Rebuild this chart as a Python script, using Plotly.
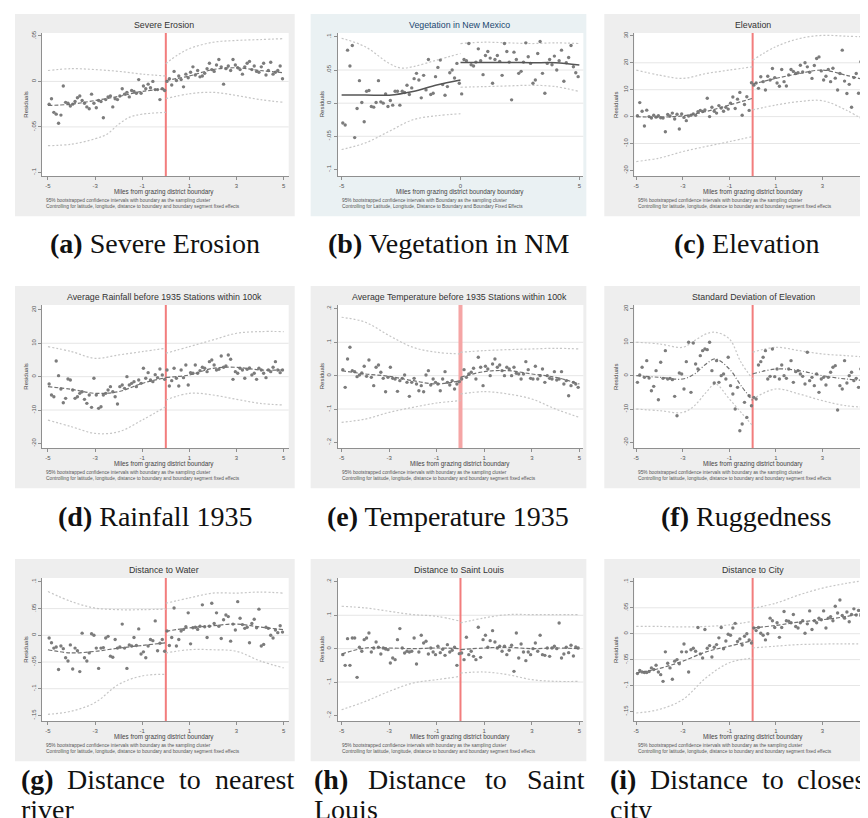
import plotly.graph_objects as go

W, H = 868, 818

# ---------------- data ----------------
X_L = [-4.95, -4.85, -4.75, -4.65, -4.55, -4.45, -4.35, -4.25, -4.15, -4.05,
       -3.95, -3.85, -3.75, -3.65, -3.55, -3.45, -3.35, -3.25, -3.15, -3.05,
       -2.95, -2.85, -2.75, -2.65, -2.55, -2.45, -2.35, -2.25, -2.15, -2.05,
       -1.95, -1.85, -1.75, -1.65, -1.55, -1.45, -1.35, -1.25, -1.15, -1.05,
       -0.95, -0.85, -0.75, -0.65, -0.55, -0.45, -0.35, -0.25, -0.15, -0.05]
X_R = [0.05, 0.15, 0.25, 0.35, 0.45, 0.55, 0.65, 0.75, 0.85, 0.95,
       1.05, 1.15, 1.25, 1.35, 1.45, 1.55, 1.65, 1.75, 1.85, 1.95,
       2.05, 2.15, 2.25, 2.35, 2.45, 2.55, 2.65, 2.75, 2.85, 2.95,
       3.05, 3.15, 3.25, 3.35, 3.45, 3.55, 3.65, 3.75, 3.85, 3.95,
       4.05, 4.15, 4.25, 4.35, 4.45, 4.55, 4.65, 4.75, 4.85, 4.95]
GRID_L = [-5, -4, -3, -2, -1, 0]
GRID_R = [0, 1, 2, 3, 4, 5]

# (a) Severe erosion
A_L = [-0.025, -0.019, -0.034, -0.036, -0.046, -0.037, -0.005, -0.023, -0.024, -0.027,
       -0.025, -0.022, -0.018, -0.016, -0.021, -0.024, -0.028, -0.030, -0.014, -0.024,
       -0.029, -0.021, -0.022, -0.040, -0.020, -0.017, -0.016, -0.028, -0.019, -0.020,
       -0.016, -0.008, -0.014, -0.012, -0.017, -0.010, -0.011, -0.013, 0.002, -0.013,
       -0.005, -0.008, -0.003, -0.007, 0.000, -0.009, -0.009, -0.020, -0.008, -0.010]
A_R = [0.000, 0.003, -0.004, 0.011, 0.001, 0.006, 0.002, -0.006, 0.008, 0.004,
       0.010, 0.016, 0.007, 0.012, 0.005, 0.006, 0.009, 0.014, 0.020, 0.013,
       0.011, 0.018, 0.024, 0.016, -0.003, 0.014, 0.017, 0.012, 0.024, 0.018,
       0.015, 0.013, 0.008, 0.016, 0.020, 0.022, 0.013, 0.017, 0.011, 0.010,
       0.016, 0.020, 0.007, 0.012, 0.021, 0.008, 0.010, 0.012, 0.017, 0.003]
A_FIT_L = [-0.0265, -0.025, -0.021, -0.0165, -0.011, -0.008]
A_FIT_R = [0.001, 0.006, 0.013, 0.015, 0.012, 0.0095]
A_CI_LU = [0.012, 0.014, 0.013, 0.011, 0.008, 0.006]
A_CI_LL_X = [-5, -4, -3, -2.5, -2, -1.5, -1, 0]
A_CI_LL = [-0.0706, -0.069, -0.063, -0.058, -0.047, -0.039, -0.036, -0.034]
A_CI_RU_X = [0, 0.5, 1, 2, 3, 4, 5]
A_CI_RU = [0.0195, 0.029, 0.036, 0.043, 0.045, 0.046, 0.047]
A_CI_RL = [-0.019, -0.0136, -0.012, -0.0155, -0.020, -0.023]

# (b) Vegetation in New Mexico
B_L = [-0.030, -0.033, 0.080, 0.056, 0.087, -0.052, -0.008, 0.034, 0.001, -0.028,
       0.018, 0.019, -0.005, -0.006, 0.001, 0.034, 0.002, 0.000, 0.014, -0.005,
       0.004, -0.003, 0.018, 0.018, -0.003, 0.018, 0.016, 0.027, 0.013, 0.023,
       0.037, 0.045, 0.035, 0.008, 0.042, 0.020, 0.066, 0.013, 0.015, 0.040,
       0.054, 0.065, 0.028, 0.012, 0.025, 0.046, 0.050, 0.038, 0.060, 0.030]
B_R = [0.014, 0.066, 0.064, 0.090, 0.058, 0.056, 0.062, 0.082, 0.064, 0.043,
       0.072, 0.078, 0.068, 0.030, 0.066, 0.072, 0.063, 0.042, 0.090, 0.078,
       0.062, 0.005, 0.077, 0.066, 0.045, 0.048, 0.062, 0.091, 0.070, 0.060,
       0.030, 0.035, 0.075, 0.093, 0.045, 0.015, 0.060, 0.066, 0.058, 0.071,
       0.050, 0.064, 0.080, 0.033, 0.061, 0.069, 0.087, 0.055, 0.046, 0.040]
B_FIT_L = [0.0125, 0.0125, 0.012, 0.0175, 0.0275, 0.035]
B_FIT_R = [0.0615, 0.0615, 0.0615, 0.061, 0.061, 0.0575]
B_CI_LU_X = [-5, -4, -3, -2.5, -2, -1, 0]
B_CI_LU = [0.098, 0.085, 0.060, 0.053, 0.055, 0.065, 0.075]
B_CI_LL = [-0.070, -0.060, -0.0425, -0.025, -0.019, -0.016]
B_CI_RU = [0.090, 0.092, 0.091, 0.090, 0.091, 0.090]
B_CI_RL = [0.024, 0.025, 0.026, 0.027, 0.025, 0.0175]

# (c) Elevation
C_L = [0.3, 5.2, 2.0, -3.5, 2.4, 0.0, -0.5, 0.5, -0.2, 0.3,
       -0.4, -0.5, -5.6, 0.8, 0.2, 1.3, -0.9, 0.9, -4.6, 1.0,
       -0.3, -1.5, 0.2, 0.5, 1.0, 0.5, 1.8, 2.3, 1.9, 2.5,
       6.8, 0.0, 3.5, 2.0, 1.3, 4.1, 3.2, 2.0, 3.5, 2.8,
       5.0, 7.3, 3.0, 6.5, 9.0, 0.5, 4.5, 7.4, 2.3, 12.6]
C_R = [11.7, 12.5, 10.5, 14.8, 13.0, 9.9, 15.0, 13.6, 17.9, 14.5,
       12.5, 11.3, 17.5, 13.0, 11.4, 15.5, 17.5, 16.8, 16.0, 16.3,
       19.1, 16.6, 20.0, 18.5, 16.5, 14.2, 19.0, 21.6, 22.2, 17.0,
       13.6, 15.0, 17.5, 13.0, 18.0, 14.3, 9.9, 16.0, 24.7, 13.2,
       8.6, 12.0, 3.5, 14.5, 16.0, 8.7, 20.4, 12.0, 8.0, 14.0]
C_FIT_L = [0.0, -0.2, 0.3, 1.9, 4.3, 6.8]
C_FIT_R = [12.1, 14.2, 16.0, 17.3, 15.4, 13.3]
C_CI_LU = [17.3, 15.4, 14.2, 16.0, 17.3, 18.5]
C_CI_LL = [-16.7, -15.4, -13.0, -11.1, -9.3, -7.4]
C_CI_RU = [21.0, 26.0, 29.0, 30.2, 29.9, 29.6]
C_CI_RL = [2.5, 4.3, 5.6, 5.9, 2.5, -2.5]

# (d) Rainfall before 1935
D_L = [-2.2, -5.5, -6.0, 4.7, 0.3, -3.7, -7.8, -6.5, -0.7, -1.0,
       -4.0, -6.5, -6.0, -5.0, -4.5, -6.8, -8.0, -5.5, -9.2, -0.5,
       -5.5, -9.5, -9.0, -5.5, -5.0, -4.0, -3.0, -4.5, -6.0, -8.2,
       -3.0, -2.5, -3.5, 0.0, -2.5, -2.0, -1.5, -3.0, -1.0, -2.0,
       2.5, -0.5, 1.2, -1.0, -1.5, 0.6, -0.3, 2.3, 0.5, -0.8]
D_R = [2.0, -2.8, -1.2, 2.5, -0.5, -2.8, 2.0, -0.3, 3.5, -2.5,
       1.2, 1.0, 3.5, 1.0, 1.8, 2.8, 2.5, 1.5, 4.5, 5.0,
       3.5, 2.0, 2.2, 6.2, 2.8, 3.2, 6.5, 5.2, -0.8, 1.5,
       1.0, 2.5, 2.0, -0.5, 2.2, 2.6, 0.5, 1.0, -0.8, 2.5,
       2.0, 1.0, -0.3, 2.0, 1.5, 2.8, 4.5, 2.0, 1.2, 2.0]
D_FIT_L = [-3.0, -3.8, -5.0, -4.5, -2.0, -0.3]
D_FIT_R = [-0.2, 0.5, 2.5, 2.8, 2.0, 2.0]
D_CI_LU = [9.0, 7.5, 5.5, 6.5, 7.5, 8.5]
D_CI_LL = [-13.0, -15.0, -17.0, -16.5, -13.0, -9.0]
D_CI_RU = [7.0, 9.0, 11.0, 13.0, 13.5, 13.5]
D_CI_RL = [-7.0, -5.0, -5.5, -6.8, -8.0, -8.5]

# (e) Temperature before 1935
E_L = [0.018, -0.035, 0.050, 0.085, 0.015, 0.012, -0.003, 0.002, 0.008, 0.028,
       -0.002, 0.047, -0.005, -0.030, 0.025, 0.032, 0.010, -0.008, -0.048, -0.005,
       0.025, -0.008, -0.010, -0.047, -0.015, -0.008, 0.002, -0.020, -0.062, -0.020,
       -0.008, -0.025, -0.045, -0.030, -0.048, 0.002, 0.015, -0.028, -0.010, -0.020,
       -0.025, -0.045, -0.010, 0.012, -0.020, -0.028, -0.015, -0.040, -0.025, -0.018]
E_R = [-0.010, 0.018, -0.005, 0.005, 0.010, 0.022, -0.010, 0.055, 0.025, -0.030,
       0.028, 0.020, 0.000, 0.035, 0.050, 0.025, 0.032, 0.015, 0.000, 0.025,
       0.020, 0.000, 0.025, 0.007, 0.005, -0.010, 0.005, 0.042, 0.018, -0.008,
       -0.010, 0.028, -0.010, 0.000, 0.020, -0.020, 0.000, -0.008, -0.010, 0.012,
       -0.013, -0.010, 0.012, -0.025, -0.015, -0.060, -0.030, -0.020, -0.025, -0.035]
E_FIT_L = [0.015, 0.005, -0.002, -0.015, -0.025, -0.015]
E_FIT_R = [-0.005, 0.012, 0.015, 0.005, -0.005, -0.025]
E_CI_LU = [0.175, 0.160, 0.120, 0.085, 0.070, 0.065]
E_CI_LL = [-0.140, -0.130, -0.110, -0.095, -0.082, -0.075]
E_CI_RU = [0.070, 0.075, 0.078, 0.080, 0.082, 0.080]
E_CI_RL = [-0.055, -0.048, -0.055, -0.070, -0.100, -0.125]

# (f) Standard deviation of elevation
F_L = [-2.0, 0.2, 2.5, -0.5, 4.5, -0.7, -4.5, -3.2, 1.5, -7.2,
       4.0, -0.8, 7.5, -1.0, -0.8, -1.2, -6.2, -12.0, 0.8, 0.5,
       -4.0, 4.2, 10.0, -5.0, 9.8, 3.5, 2.0, 6.0, 7.5, 8.0,
       7.8, 10.0, 1.5, -2.2, 4.5, -2.0, 0.0, 0.5, -1.0, 5.5,
       -3.0, -5.5, -10.0, -3.5, -16.5, -14.5, -8.0, -12.5, -6.0, -9.0]
F_R = [-6.5, -7.0, 3.2, 4.2, 5.5, 7.5, -1.0, -0.2, 8.0, -0.3,
       2.0, -1.0, 3.2, 0.0, -0.8, 2.0, 4.5, -2.0, 1.2, 1.5,
       0.5, -0.2, -2.5, 7.0, -1.5, -0.5, -3.0, 0.5, -5.0, -1.0,
       -0.5, -2.8, -0.5, 1.0, 2.5, 3.0, -10.3, -3.0, -4.0, 4.5,
       -2.2, 0.0, 1.0, -1.5, -0.8, -3.5, 2.0, -1.8, -0.5, -2.2]
F_XL = [-5, -4, -3, -2.5, -2, -1.6, -1, -0.5, 0]
F_FIT_L = [0.0, -0.5, -1.0, 0.5, 3.5, 5.0, 2.0, -3.0, -7.5]
F_CI_LU = [10.0, 9.5, 8.5, 10.5, 12.5, 13.0, 11.0, 4.0, -1.0]
F_CI_LL = [-10.0, -10.5, -11.0, -9.0, -5.0, -2.5, -7.0, -11.0, -15.0]
F_FIT_R = [0.5, 2.0, 1.5, 0.0, -1.0, -1.5]
F_CI_RU = [7.0, 8.5, 7.5, 6.5, 6.0, 5.5]
F_CI_RL = [-7.0, -4.0, -5.5, -7.5, -9.0, -9.5]

# (g) Distance to water
G_L = [-0.005, -0.014, -0.024, -0.022, -0.064, -0.020, -0.025, -0.042, -0.048, -0.018,
       -0.063, -0.024, -0.029, -0.068, 0.004, -0.042, -0.048, -0.033, 0.003, 0.000,
       -0.024, -0.062, -0.024, -0.023, -0.005, -0.002, -0.039, -0.041, -0.008, -0.024,
       -0.022, 0.021, -0.024, -0.062, -0.018, -0.020, -0.004, -0.019, 0.012, -0.035,
       -0.031, -0.042, -0.020, -0.008, -0.010, 0.027, -0.029, -0.015, -0.008, -0.030]
G_R = [0.008, -0.019, -0.004, 0.051, -0.020, -0.008, 0.008, 0.011, 0.016, 0.042,
       -0.016, 0.014, 0.015, 0.011, 0.017, 0.057, 0.016, -0.004, 0.017, 0.060,
       0.022, 0.042, 0.017, -0.006, 0.029, 0.038, 0.035, -0.011, 0.021, 0.010,
       0.063, 0.032, 0.020, 0.013, 0.015, -0.014, 0.022, 0.030, 0.014, 0.049,
       -0.020, -0.017, 0.015, 0.013, 0.000, -0.005, 0.010, 0.005, 0.018, 0.006]
G_FIT_L = [-0.027, -0.033, -0.030, -0.024, -0.019, -0.014]
G_FIT_R = [0.0075, 0.014, 0.018, 0.021, 0.0155, 0.0105]
G_CI_LU = [0.082, 0.063, 0.051, 0.048, 0.048, 0.049]
G_CI_LL = [-0.148, -0.142, -0.126, -0.092, -0.076, -0.073]
G_CI_RU = [0.060, 0.070, 0.079, 0.079, 0.081, 0.079]
G_CI_RL = [-0.033, -0.027, -0.027, -0.030, -0.048, -0.061]

# (h) Distance to Saint Louis
H_L = [-0.018, -0.050, 0.030, -0.050, 0.032, 0.032, -0.086, 0.004, -0.008, 0.027,
       0.032, 0.047, -0.010, 0.002, 0.020, 0.004, -0.016, 0.002, -0.001, -0.003,
       -0.043, -0.028, -0.033, 0.027, 0.060, 0.002, -0.013, -0.008, -0.010, -0.008,
       0.032, -0.046, -0.010, 0.040, 0.017, 0.022, -0.016, 0.002, -0.010, -0.018,
       0.007, -0.012, -0.002, -0.020, 0.012, -0.010, -0.005, 0.004, -0.050, -0.015]
H_R = [-0.013, -0.033, 0.034, -0.018, -0.008, -0.023, -0.033, 0.064, -0.026, 0.027,
       0.040, 0.004, 0.024, 0.054, 0.020, 0.002, 0.007, -0.008, 0.007, -0.018,
       -0.005, 0.010, -0.068, 0.047, -0.028, 0.014, -0.010, -0.036, -0.010, -0.018,
       0.000, 0.017, -0.008, 0.040, -0.018, -0.020, 0.002, -0.023, 0.002, 0.007,
       0.000, 0.077, -0.028, -0.016, 0.004, -0.012, 0.010, -0.022, 0.005, 0.002]
H_FIT_L = [-0.016, 0.002, 0.002, 0.000, 0.002, 0.000]
H_FIT_R = [-0.003, 0.002, 0.004, 0.000, 0.002, 0.000]
H_CI_LU = [0.127, 0.122, 0.112, 0.102, 0.097, 0.082]
H_CI_LL = [-0.183, -0.158, -0.128, -0.103, -0.093, -0.083]
H_CI_RU = [0.077, 0.092, 0.102, 0.102, 0.102, 0.102]
H_CI_RL = [-0.073, -0.070, -0.078, -0.093, -0.098, -0.098]

# (i) Distance to city
I_L = [-0.077, -0.071, -0.074, -0.075, -0.075, -0.073, -0.066, -0.069, -0.061, -0.074,
       -0.079, -0.092, -0.035, -0.057, -0.066, -0.088, -0.053, -0.050, -0.058, -0.035,
       -0.020, -0.035, -0.074, -0.031, -0.028, -0.034, 0.012, -0.039, -0.047, 0.008,
       -0.028, -0.023, -0.045, -0.026, -0.021, -0.008, 0.012, -0.029, -0.014, -0.001,
       -0.003, 0.011, 0.020, -0.015, -0.010, -0.022, -0.005, 0.000, -0.012, -0.018]
I_R = [0.011, 0.006, 0.012, 0.001, -0.003, -0.012, 0.000, 0.030, 0.025, 0.012,
       0.021, -0.007, 0.012, 0.043, 0.025, 0.024, 0.021, 0.037, 0.014, 0.011,
       0.021, 0.025, 0.001, 0.019, 0.044, 0.008, 0.025, 0.021, 0.030, 0.027,
       0.044, 0.011, 0.030, 0.033, 0.025, 0.053, 0.040, 0.065, 0.035, 0.030,
       0.042, 0.023, 0.037, 0.048, 0.036, 0.045, 0.035, 0.022, 0.037, 0.040]
I_FIT_L = [-0.0756, -0.067, -0.053, -0.035, -0.024, -0.0135]
I_FIT_R = [0.011, 0.016, 0.0225, 0.027, 0.033, 0.042]
I_CI_LU = [0.014, 0.014, 0.013, 0.014, 0.017, 0.024]
I_CI_LL = [-0.153, -0.146, -0.127, -0.085, -0.056, -0.047]
I_CI_RU = [0.049, 0.059, 0.075, 0.088, 0.097, 0.104]
I_CI_RL = [-0.0275, -0.024, -0.021, -0.020, -0.0195, -0.020]

TITLES = ["Severe Erosion", "Vegetation in New Mexico", "Elevation",
          "Average Rainfall before 1935 Stations within 100k",
          "Average Temperature before 1935 Stations within 100k",
          "Standard Deviation of Elevation",
          "Distance to Water", "Distance to Saint Louis", "Distance to City"]
CAPTIONS = [("(a)", "Severe Erosion"), ("(b)", "Vegetation in NM"), ("(c)", "Elevation"),
            ("(d)", "Rainfall 1935"), ("(e)", "Temperature 1935"), ("(f)", "Ruggedness")]
Y_TICKS = [
    ([0.05, 0, -0.05, -0.1], [".05", "0", "-.05", "-.1"]),
    ([0.1, 0.05, 0, -0.05, -0.1], [".1", ".05", "0", "-.05", "-.1"]),
    ([30, 20, 10, 0, -10, -20], ["30", "20", "10", "0", "-10", "-20"]),
    ([20, 10, 0, -10, -20], ["20", "10", "0", "-10", "-20"]),
    ([0.2, 0.1, 0, -0.1, -0.2], [".2", ".1", "0", "-.1", "-.2"]),
    ([20, 10, 0, -10, -20], ["20", "10", "0", "-10", "-20"]),
    ([0.1, 0.05, 0, -0.05, -0.1, -0.15], [".1", ".05", "0", "-.05", "-.1", "-.15"]),
    ([0.2, 0.1, 0, -0.1, -0.2], [".2", ".1", "0", "-.1", "-.2"]),
    ([0.1, 0.05, 0, -0.05, -0.1, -0.15], [".1", ".05", "0", "-.05", "-.1", "-.15"]),
]
X_TICKS = [-5, -3, -1, 1, 3, 5]
X_TICKS_B = [-5, 0, 5]
NOTE_1 = ("95% bootstrapped confidence intervals with boundary as the sampling cluster<br>"
          "Controlling for latitude, longitude, distance to boundary and boundary segment fixed effects")
NOTE_B = ("95% bootstrapped confidence intervals with Boundary as the sampling cluster<br>"
          "Controlling for Latitude, Longitude, Distance to Boundary and Boundary Fixed Effects")

PANELS = [
    dict(pl=A_L, pr=A_R, fl=(GRID_L, A_FIT_L), fr=(GRID_R, A_FIT_R),
         cis=[(GRID_L, A_CI_LU), (A_CI_LL_X, A_CI_LL), (A_CI_RU_X, A_CI_RU), (GRID_R, A_CI_RL)]),
    dict(pl=B_L, pr=B_R, fl=(GRID_L, B_FIT_L), fr=(GRID_R, B_FIT_R),
         cis=[(B_CI_LU_X, B_CI_LU), (GRID_L, B_CI_LL), (GRID_R, B_CI_RU), (GRID_R, B_CI_RL)]),
    dict(pl=C_L, pr=C_R, fl=(GRID_L, C_FIT_L), fr=(GRID_R, C_FIT_R),
         cis=[(GRID_L, C_CI_LU), (GRID_L, C_CI_LL), (GRID_R, C_CI_RU), (GRID_R, C_CI_RL)]),
    dict(pl=D_L, pr=D_R, fl=(GRID_L, D_FIT_L), fr=(GRID_R, D_FIT_R),
         cis=[(GRID_L, D_CI_LU), (GRID_L, D_CI_LL), (GRID_R, D_CI_RU), (GRID_R, D_CI_RL)]),
    dict(pl=E_L, pr=E_R, fl=(GRID_L, E_FIT_L), fr=(GRID_R, E_FIT_R),
         cis=[(GRID_L, E_CI_LU), (GRID_L, E_CI_LL), (GRID_R, E_CI_RU), (GRID_R, E_CI_RL)]),
    dict(pl=F_L, pr=F_R, fl=(F_XL, F_FIT_L), fr=(GRID_R, F_FIT_R),
         cis=[(F_XL, F_CI_LU), (F_XL, F_CI_LL), (GRID_R, F_CI_RU), (GRID_R, F_CI_RL)]),
    dict(pl=G_L, pr=G_R, fl=(GRID_L, G_FIT_L), fr=(GRID_R, G_FIT_R),
         cis=[(GRID_L, G_CI_LU), (GRID_L, G_CI_LL), (GRID_R, G_CI_RU), (GRID_R, G_CI_RL)]),
    dict(pl=H_L, pr=H_R, fl=(GRID_L, H_FIT_L), fr=(GRID_R, H_FIT_R),
         cis=[(GRID_L, H_CI_LU), (GRID_L, H_CI_LL), (GRID_R, H_CI_RU), (GRID_R, H_CI_RL)]),
    dict(pl=I_L, pr=I_R, fl=(GRID_L, I_FIT_L), fr=(GRID_R, I_FIT_R),
         cis=[(GRID_L, I_CI_LU), (GRID_L, I_CI_LL), (GRID_R, I_CI_RU), (GRID_R, I_CI_RL)]),
]

# ---------------- layout geometry (pixels) ----------------
COLS = [dict(gx0=6, gx1=286, px0=33, px1=280, xm5=39, xp5=275),
        dict(gx0=302, gx1=578, px0=329, px1=575, xm5=333, xp5=571),
        dict(gx0=596, gx1=884, px0=626, px1=868, xm5=628, xp5=861)]
ROWS = [0, 273, 547]
TICK_PX = [(25, 162), (26, 159), (25, 160), (27, 161), (26, 160), (26, 160),
           (26, 160), (26, 160), (26, 156)]
PLOT_TOP, PLOT_BOT = 22, 166

SANS = "Liberation Sans, Arial, sans-serif"
SERIF = "Liberation Serif, Times New Roman, serif"


def fx(p):
    return p / W


def fy(p):
    return 1 - p / H


fig = go.Figure()
shapes, annotations, layout_axes = [], [], {}

for i, P in enumerate(PANELS):
    col, row = COLS[i % 3], ROWS[i // 3]
    n = "" if i == 0 else str(i + 1)
    xa, ya = "x" + n, "y" + n
    is_b = (i == 1)

    unit = (col["xp5"] - col["xm5"]) / 10.0
    xr = [-5 - (col["xm5"] - col["px0"]) / unit, 5 + (col["px1"] - col["xp5"]) / unit]
    tv, tt = Y_TICKS[i]
    p0, p1 = TICK_PX[i]
    slope = (tv[0] - tv[-1]) / (p1 - p0)
    yr = [tv[-1] - (PLOT_BOT - p1) * slope, tv[0] + (p0 - PLOT_TOP) * slope]

    axis_common = dict(showline=True, linecolor="#8f8f8f", linewidth=1, ticks="outside",
                       ticklen=3, tickcolor="#8f8f8f", showgrid=False, zeroline=False,
                       tickfont=dict(family=SANS, size=6, color="#555"), fixedrange=True)
    xt = X_TICKS_B if is_b else X_TICKS
    layout_axes["xaxis" + n] = dict(domain=[fx(col["px0"]), fx(col["px1"])], range=xr,
                                    anchor=ya, tickvals=xt, ticktext=[str(v) for v in xt],
                                    ticklabeloverflow="allow", **axis_common)
    layout_axes["yaxis" + n] = dict(domain=[fy(row + PLOT_BOT), fy(row + PLOT_TOP)], range=yr,
                                    anchor=xa, tickvals=tv, ticktext=tt, tickangle=-90,
                                    **axis_common)

    # panel background and plot area
    shapes.append(dict(type="rect", xref="paper", yref="paper", layer="below",
                       x0=fx(col["gx0"]), x1=fx(col["gx1"]), y0=fy(row + 206), y1=fy(row + 3),
                       fillcolor="#eaf1f3" if is_b else "#eeeeee", line=dict(width=0)))
    shapes.append(dict(type="rect", xref="paper", yref="paper", layer="below",
                       x0=fx(col["px0"]), x1=fx(col["px1"]), y0=fy(row + PLOT_BOT),
                       y1=fy(row + PLOT_TOP), fillcolor="white", line=dict(width=0)))
    for v in tv[1:-1]:
        shapes.append(dict(type="line", xref=xa + " domain", yref=ya, layer="below",
                           x0=0, x1=1, y0=v, y1=v, line=dict(color="#e6e6e6", width=1)))
    if not is_b:
        shapes.append(dict(type="line", xref=xa, yref=ya + " domain", layer="below",
                           x0=0, x1=0, y0=0, y1=1,
                           line=dict(color="#f5a5a5" if i == 4 else "#f27d7d",
                                     width=4 if i == 4 else 2)))

    # confidence bands
    for cx, cy in P["cis"]:
        fig.add_trace(go.Scatter(x=cx, y=cy, mode="lines", xaxis=xa, yaxis=ya,
                                 line=dict(color="#c6c6c6", width=1.2, dash="2px,2px",
                                           shape="spline", smoothing=1.0),
                                 hoverinfo="skip", showlegend=False))
    # binned residuals
    fig.add_trace(go.Scatter(x=X_L + X_R, y=P["pl"] + P["pr"], mode="markers",
                             xaxis=xa, yaxis=ya,
                             marker=dict(symbol="circle", size=3.4, color="#7c7c7c",
                                         line=dict(width=0)),
                             showlegend=False))
    # fitted lines
    fcol = "#555555" if is_b else "#707070"
    for fxs, fys in (P["fl"], P["fr"]):
        fig.add_trace(go.Scatter(x=fxs, y=fys, mode="lines", xaxis=xa, yaxis=ya,
                                 line=dict(color=fcol, width=1.5 if is_b else 1.2,
                                           dash="solid" if is_b else ("4px,2px,1px,2px" if i == 5 else "4px,2px"),
                                           shape="spline", smoothing=1.0),
                                 hoverinfo="skip", showlegend=False))

    center_x = fx((col["px0"] + col["xp5"] + 3) / 2)
    # title
    annotations.append(dict(text=TITLES[i], xref="paper", yref="paper",
                            x=center_x, y=fy(row + 14),
                            showarrow=False, xanchor="center", yanchor="middle",
                            font=dict(family=SANS, size=8.8,
                                      color="#1a476f" if is_b else "#333")))
    # x axis title
    annotations.append(dict(text="Miles from grazing district boundary" + (" boundary" if is_b else ""),
                            xref="paper", yref="paper", x=center_x, y=fy(row + 182),
                            showarrow=False, xanchor="center", yanchor="middle",
                            font=dict(family=SANS, size=6.3, color="#444")))
    # notes
    annotations.append(dict(text=NOTE_B if is_b else NOTE_1, xref="paper", yref="paper",
                            x=fx(col["px0"] + 2), y=fy(row + 193), align="left",
                            showarrow=False, xanchor="left", yanchor="middle",
                            font=dict(family=SANS, size=4.8, color="#555")))
    # y title
    annotations.append(dict(text="Residuals", xref="paper", yref="paper",
                            x=fx(col["gx0"] + 11), y=fy(row + (PLOT_TOP + PLOT_BOT) / 2),
                            textangle=-90, showarrow=False, xanchor="center", yanchor="middle",
                            font=dict(family=SANS, size=6, color="#444")))

# captions rows 1 and 2
CAP_Y = [233, 507]
CAP_CX = [146, 440, 738]
for k, (lab, txt) in enumerate(CAPTIONS):
    annotations.append(dict(text="<b>" + lab + "</b> " + txt, xref="paper", yref="paper",
                            x=fx(CAP_CX[k % 3]), y=fy(CAP_Y[k // 3]), showarrow=False,
                            xanchor="center", yanchor="middle",
                            font=dict(family=SERIF, size=28, color="#111")))

# captions row 3 (justified two-line captions)
ROW3_WORDS = [
    [("<b>(g)</b>", 10), ("Distance", 56), ("to", 168), ("nearest", 204)],
    [("<b>(h)</b>", 303), ("Distance", 357), ("to", 475), ("Saint", 517)],
    [("<b>(i)</b>", 600), ("Distance", 640), ("to", 752), ("closest", 787)],
]
ROW3_LINE2 = [("river", 10), ("Louis", 303), ("city", 600)]
for words in ROW3_WORDS:
    for w, x in words:
        annotations.append(dict(text=w, xref="paper", yref="paper", x=fx(x), y=fy(771),
                                showarrow=False, xanchor="left", yanchor="middle",
                                font=dict(family=SERIF, size=28, color="#111")))
for w, x in ROW3_LINE2:
    annotations.append(dict(text=w, xref="paper", yref="paper", x=fx(x), y=fy(801),
                            showarrow=False, xanchor="left", yanchor="middle",
                            font=dict(family=SERIF, size=28, color="#111")))

fig.update_layout(width=W, height=H, margin=dict(l=0, r=0, t=0, b=0),
                  paper_bgcolor="white", plot_bgcolor="rgba(0,0,0,0)",
                  showlegend=False, shapes=shapes, annotations=annotations,
                  **layout_axes)

fig.write_html("out.html")
